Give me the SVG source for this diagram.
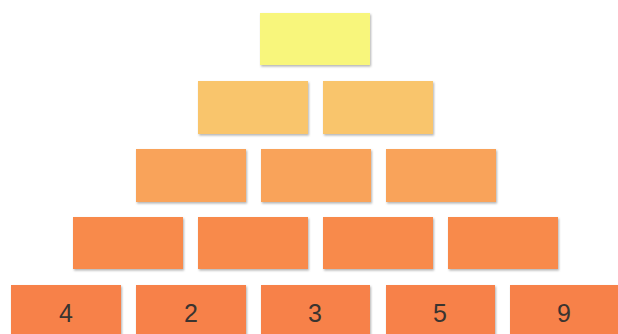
<svg xmlns="http://www.w3.org/2000/svg" width="618" height="334" viewBox="0 0 618 334">
  <defs>
    <filter id="sh" x="-10%" y="-10%" width="125%" height="135%">
      <feDropShadow dx="1" dy="1.5" stdDeviation="1.2" flood-color="#000" flood-opacity="0.3"/>
    </filter>
    <style>
      .b { filter: url(#sh); }
      .r1 { fill: #F8F67C; }
      .r2 { fill: #F9C56C; }
      .r3 { fill: #F9A35A; }
      .r4 { fill: #F88A4C; }
      .r5 { fill: #F7814A; }
      .t { font-family: "Liberation Sans", Arial, sans-serif; font-size: 25px; fill: #3A3430; text-anchor: middle; }
    </style>
  </defs>
  <rect width="618" height="334" fill="#FFFFFF"/>
  <g id="row1">
    <g id="n1"><rect class="b r1" x="260" y="13" width="110" height="52"/></g>
  </g>
  <g id="row2">
    <g id="n2a"><rect class="b r2" x="198" y="81" width="110" height="53"/></g>
    <g id="n2b"><rect class="b r2" x="323" y="81" width="110" height="53"/></g>
  </g>
  <g id="row3">
    <g id="n3a"><rect class="b r3" x="136" y="149" width="110" height="53"/></g>
    <g id="n3b"><rect class="b r3" x="261" y="149" width="110" height="53"/></g>
    <g id="n3c"><rect class="b r3" x="386" y="149" width="110" height="53"/></g>
  </g>
  <g id="row4">
    <g id="n4a"><rect class="b r4" x="73" y="217" width="110" height="52"/></g>
    <g id="n4b"><rect class="b r4" x="198" y="217" width="110" height="52"/></g>
    <g id="n4c"><rect class="b r4" x="323" y="217" width="110" height="52"/></g>
    <g id="n4d"><rect class="b r4" x="448" y="217" width="110" height="52"/></g>
  </g>
  <g id="row5">
    <g id="n5a"><rect class="b r5" x="11" y="285" width="110" height="55"/><text class="t" x="66" y="322">4</text></g>
    <g id="n5b"><rect class="b r5" x="136" y="285" width="110" height="55"/><text class="t" x="191" y="322">2</text></g>
    <g id="n5c"><rect class="b r5" x="261" y="285" width="109" height="55"/><text class="t" x="315" y="322">3</text></g>
    <g id="n5d"><rect class="b r5" x="386" y="285" width="109" height="55"/><text class="t" x="440" y="322">5</text></g>
    <g id="n5e"><rect class="b r5" x="510" y="285" width="110" height="55"/><text class="t" x="564" y="322">9</text></g>
  </g>
  <g id="connectors"/>
</svg>
